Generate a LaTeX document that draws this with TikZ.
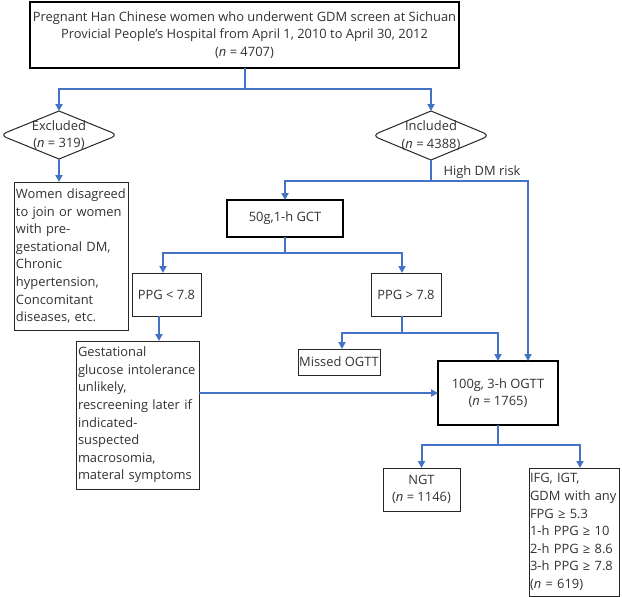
\documentclass[tikz,border=0pt]{standalone}
\usepackage{fontspec}
\setmainfont{Open Sans}
\usetikzlibrary{arrows.meta}
\definecolor{conblue}{RGB}{68,114,196}
\definecolor{txtgray}{RGB}{50,50,50}
\newcommand{\nn}{\textit{n}}
\begin{document}
\begin{tikzpicture}[x=1pt,y=-1pt,
  every node/.style={font=\fontsize{12.9}{17.6}\selectfont, text=txtgray, inner sep=0pt, outer sep=0pt},
  box/.style={draw=black!85, line width=1pt, align=center},
  thickbox/.style={draw=black, line width=2.4pt, align=center},
  conn/.style={draw=conblue, line width=2pt},
  arr/.style={conn, -{Triangle[length=7pt,width=7pt]}},
  lbox/.style={box, align=left, text width=#1}
]
\useasboundingbox (0,0) rectangle (622,597);

% nodes
\node[thickbox, minimum width=429pt, minimum height=66pt] (top) at (244.5,35)
  {Pregnant Han Chinese women who underwent GDM screen at Sichuan\\
   Provicial People’s Hospital from April 1, 2010 to April 30, 2012\\
   (\nn{} = 4707)};

\node[align=center, minimum width=118pt, minimum height=48pt] (excl) at (59,135) {Excluded\\(\nn{} = 319)};
\node[align=center, minimum width=118pt, minimum height=49pt] (incl) at (431,135.5) {Included\\(\nn{} = 4388)};
\foreach \d in {excl,incl}{
  \draw[black!85, line width=1pt] (\d.north)
     [rounded corners=7pt] -- (\d.east) [sharp corners] -- (\d.south)
     [rounded corners=7pt] -- (\d.west) [sharp corners] -- cycle;
}

\node[lbox=110pt, minimum height=148pt, inner xsep=2pt] (women) at (71,256)
  {Women disagreed\\ to join or women\\ with pre-\\ gestational DM,\\ Chronic\\ hypertension,\\ Concomitant\\ diseases, etc.};

\node[thickbox, minimum width=116pt, minimum height=37pt] (gct) at (285,218.5) {50g,1-h GCT};

\node[box, minimum width=69pt, minimum height=43pt] (ppgl) at (166.5,294.5) {PPG < 7.8};
\node[box, minimum width=70pt, minimum height=43pt] (ppgh) at (406,294.5) {PPG > 7.8};

\node[lbox=119pt, minimum height=148pt, inner xsep=2pt] (gest) at (137.5,415)
  {Gestational\\ glucose intolerance\\ unlikely,\\ rescreening later if\\ indicated-\\ suspected\\ macrosomia,\\ materal symptoms};

\node[box, minimum width=82pt, minimum height=26pt] (missed) at (339,362) {Missed OGTT};

\node[thickbox, minimum width=120pt, minimum height=64pt] (ogtt) at (498,393) {100g, 3-h OGTT\\(\nn{} = 1765)};

\node[box, minimum width=77pt, minimum height=43pt] (ngt) at (421.5,489.5) {NGT\\(\nn{} = 1146)};

\node[lbox=88pt, minimum height=128pt, inner xsep=1pt] (ifg) at (574,532)
  {IFG, IGT,\\ GDM with any\\ FPG ≥ 5.3\\ 1-h PPG ≥ 10\\ 2-h PPG ≥ 8.6\\ 3-h PPG ≥ 7.8\\ (\nn{} = 619)};

\node (risk) at (482,172) {High DM risk};

% junction coordinates
\coordinate (j1) at (244.5,89);
\coordinate (j2) at (431,181);
\coordinate (j2r) at (528,181);
\coordinate (j3) at (285,253);
\coordinate (j3l) at (163,253);
\coordinate (j3r) at (402,253);
\coordinate (j4) at (402,333);
\coordinate (j4l) at (342,333);
\coordinate (j4r) at (498,333);
\coordinate (j5) at (498,445);
\coordinate (j5l) at (421.5,445);
\coordinate (j5r) at (580,445);
\coordinate (g1) at (159,316);

% connectors
\draw[conn] (top.south) -- (j1);
\draw[arr] (j1) -| (excl.north);
\draw[arr] (j1) -| (incl.north);
\draw[arr] (excl.south) -- (excl.south |- women.north);
\draw[conn] (incl.south) -- (j2);
\draw[arr] (j2) -| (gct.north);
\draw[arr] (j2) -- (j2r) -- (j2r |- ogtt.north);
\draw[conn] (gct.south) -- (j3);
\draw[arr] (j3) -- (j3l) -- (j3l |- ppgl.north);
\draw[arr] (j3) -- (j3r) -- (j3r |- ppgh.north);
\draw[arr] (g1) -- (g1 |- gest.north);
\draw[conn] (ppgh.south -| j4) -- (j4);
\draw[arr] (j4) -- (j4l) -- (j4l |- missed.north);
\draw[arr] (j4) -- (j4r) -- (j4r |- ogtt.north);
\draw[arr] (gest.east |- ogtt.west) -- (ogtt.west);
\draw[conn] (ogtt.south) -- (j5);
\draw[arr] (j5) -- (j5l) -- (ngt.north);
\draw[arr] (j5) -- (j5r) -- (j5r |- ifg.north);
\end{tikzpicture}
\end{document}
